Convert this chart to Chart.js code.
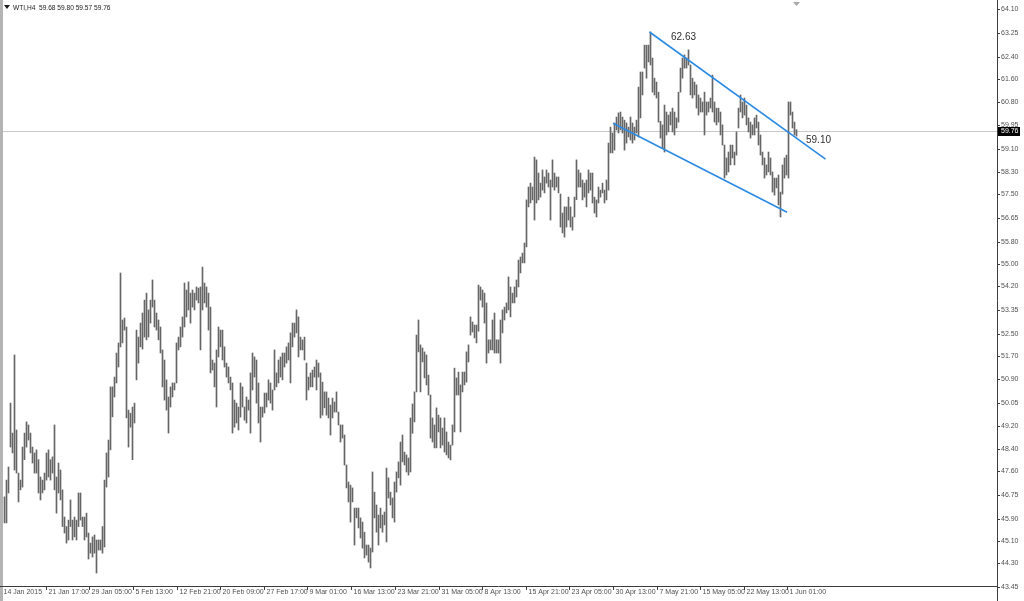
<!DOCTYPE html>
<html>
<head>
<meta charset="utf-8">
<script src="https://cdn.jsdelivr.net/npm/chart.js@4.4.1/dist/chart.umd.min.js"></script>
<style>
  html, body { margin: 0; padding: 0; background: #fff; overflow: hidden; }
  canvas { display: block; }
</style>
</head>
<body>
<canvas id="wtiChart" width="1024" height="601"></canvas>
<script>
// WTI H4 bars (one entry every second pixel column)
const highs = [
  46.68,47.28,47.75,50.03,48.96,51.75,49.07,47.53,47.28,48.46,
  48.96,49.36,49.25,48.96,48.46,48.25,48.36,48.01,47.39,47.28,
  47.53,48.25,48.36,48.01,48.11,49.25,47.39,47.89,47.64,46.93,
  45.96,45.62,45.85,46.57,45.85,45.96,45.85,46.82,46.82,45.96,
  45.96,46.10,45.39,45.03,45.25,45.32,45.14,45.14,45.14,45.62,
  47.28,48.25,48.71,50.61,50.61,50.96,51.82,52.18,54.68,53.00,
  53.07,52.75,49.78,49.67,49.89,50.03,52.64,52.39,52.89,53.25,
  53.71,53.96,53.36,53.71,54.43,53.71,53.25,53.00,52.75,51.93,
  51.57,50.86,50.25,50.61,50.75,50.75,52.18,52.39,52.75,53.11,
  54.32,54.07,54.36,53.96,54.07,53.96,54.18,54.14,54.18,54.89,
  54.32,54.18,53.96,53.46,51.57,51.46,51.93,52.75,52.64,52.64,
  52.04,51.46,51.32,50.96,50.75,50.14,50.03,49.89,50.75,50.61,
  49.89,50.25,50.14,51.11,51.82,51.68,51.57,50.75,49.89,49.89,
  50.39,50.39,50.86,50.75,50.50,51.93,51.11,51.57,51.68,51.82,
  51.82,52.04,52.18,52.54,52.89,52.89,53.36,53.11,52.39,52.29,
  52.39,51.46,50.96,51.11,51.21,51.32,51.57,51.46,51.11,50.78,
  50.43,50.43,50.21,49.96,50.21,50.07,50.43,49.71,49.25,49.25,
  48.89,47.82,47.21,47.10,47.00,46.28,46.28,46.28,45.93,45.78,
  45.42,44.96,44.96,44.85,47.57,46.85,46.39,46.03,46.28,46.03,
  46.14,47.71,47.36,46.85,46.64,47.21,47.57,47.93,48.64,48.89,
  48.28,48.18,48.07,49.50,50.00,50.43,52.46,53.00,52.11,52.00,
  51.86,51.75,51.03,50.32,49.50,49.25,49.86,49.60,49.50,49.14,
  49.50,49.00,48.64,48.53,49.25,51.28,50.93,51.14,50.68,51.14,
  51.14,51.86,52.11,53.11,52.93,52.82,52.82,54.25,54.18,54.07,
  53.96,53.61,52.29,52.29,53.00,53.25,52.29,52.29,53.00,53.36,
  53.46,53.61,54.54,54.18,53.96,54.18,54.43,55.14,55.25,55.39,
  55.75,57.29,57.75,57.89,57.75,58.82,58.72,58.25,57.89,58.36,
  58.11,58.36,58.25,58.00,58.72,58.25,58.11,58.11,57.50,56.82,
  57.04,57.04,57.39,57.04,56.68,57.39,58.72,58.36,58.25,58.00,
  57.89,58.00,58.36,58.25,58.25,57.39,57.29,57.75,57.64,57.89,
  57.64,58.00,59.32,59.89,59.68,60.04,60.25,60.40,60.43,60.25,
  60.14,60.04,59.89,60.25,60.04,59.89,60.14,61.32,61.86,61.86,
  62.82,62.82,62.82,63.29,62.36,61.64,61.50,61.14,60.10,59.97,
  60.68,60.43,60.32,60.43,60.57,60.43,60.22,61.14,62.00,62.36,
  62.47,62.36,62.65,62.11,61.64,61.50,61.40,61.04,60.93,60.79,
  61.14,60.79,60.79,60.93,61.75,60.79,60.57,60.57,60.43,59.97,
  59.25,58.79,59.00,59.25,59.25,59.00,59.72,60.57,61.04,60.79,
  60.93,60.68,60.22,60.07,59.97,60.22,60.32,60.07,59.61,59.00,
  58.79,58.54,59.00,58.79,58.29,58.07,58.07,58.18,57.57,58.54,
  58.79,58.89,60.79,60.79,60.43,60.07,59.80
];
const lows = [
  45.75,45.75,46.82,48.46,48.25,47.64,47.53,46.50,46.93,47.03,
  48.01,48.46,48.71,48.25,47.89,47.53,47.53,46.82,46.57,46.82,
  46.93,47.28,47.39,47.28,47.53,46.93,46.10,46.82,46.57,45.62,
  45.39,45.03,45.14,45.62,45.14,45.25,45.14,45.62,45.85,45.62,
  45.14,45.25,44.46,44.67,44.53,44.67,43.96,44.78,44.78,44.67,
  44.89,47.03,47.39,48.36,49.54,50.25,50.75,51.32,52.04,52.18,
  52.64,49.50,48.46,49.17,48.01,49.32,50.86,51.46,52.04,51.96,
  52.39,52.29,52.39,52.89,53.46,52.75,52.64,52.29,51.82,50.61,
  50.14,49.78,48.96,49.89,50.25,50.50,50.75,51.93,52.04,52.39,
  52.75,53.11,53.36,52.89,53.46,53.36,53.71,53.61,51.93,53.36,
  53.61,53.46,52.64,51.11,51.21,50.61,49.89,51.68,52.04,51.57,
  51.32,50.96,50.75,50.50,48.96,49.17,49.32,49.07,49.53,49.89,
  49.42,49.32,49.78,48.96,50.50,50.96,50.03,49.32,48.64,49.53,
  49.68,49.89,50.14,50.03,49.78,50.50,50.61,50.75,50.96,50.86,
  51.32,51.46,51.57,50.75,52.04,52.39,52.54,51.68,51.93,51.93,
  51.57,50.14,50.50,50.61,50.61,50.96,50.50,50.96,49.50,49.60,
  49.86,49.60,49.50,48.89,49.50,49.71,49.71,49.25,48.64,48.78,
  47.82,47.00,46.50,45.78,46.50,44.96,45.93,45.57,45.21,44.85,
  44.50,44.60,44.35,44.14,44.71,45.93,45.42,44.96,45.57,45.42,
  45.68,45.07,46.64,46.39,45.93,45.78,46.85,47.36,47.10,47.93,
  47.82,47.57,47.46,47.57,48.95,49.36,50.43,51.86,50.43,51.50,
  50.93,50.68,50.32,48.78,48.64,48.43,48.43,49.00,48.43,48.53,
  48.28,48.18,48.07,48.00,48.53,49.00,50.32,50.32,49.00,50.43,
  50.68,50.78,51.50,52.46,52.57,52.36,52.18,52.60,53.71,53.46,
  52.89,51.46,51.82,51.93,51.93,51.82,51.82,51.82,51.46,52.54,
  53.00,53.25,53.36,53.11,53.61,53.61,53.82,54.18,54.68,55.04,
  55.04,55.61,57.04,57.18,57.29,56.57,57.18,57.29,57.39,57.64,
  57.54,57.89,57.75,56.57,57.75,57.64,57.75,57.54,56.32,56.11,
  55.96,56.32,56.57,56.32,56.21,56.68,57.30,57.75,57.75,57.29,
  57.39,57.04,57.54,57.64,57.18,56.82,56.68,57.18,57.39,57.54,
  57.18,57.29,57.64,58.97,58.97,59.07,59.79,59.68,59.79,59.68,
  59.07,59.32,59.54,59.43,59.32,59.43,59.68,59.54,60.22,61.04,
  62.00,61.64,62.22,62.11,61.14,61.04,60.93,60.07,59.50,59.14,
  59.00,59.61,59.72,59.97,59.72,59.61,59.86,60.07,61.14,61.64,
  62.00,62.00,62.11,61.04,60.93,61.04,60.57,60.32,60.43,60.43,
  59.61,60.32,60.43,60.57,60.43,60.07,59.97,60.07,59.61,59.25,
  58.07,58.18,58.29,58.54,58.79,58.54,58.89,59.86,60.43,60.22,
  60.32,59.97,59.72,59.50,59.61,59.61,59.86,59.25,58.89,58.54,
  58.07,58.18,58.29,58.18,57.57,57.46,57.72,57.11,56.68,57.50,
  58.07,58.18,58.07,60.32,59.86,59.61,59.57
];

// last bar O H L C shown in the header
const lastOHLC = [59.68, 59.80, 59.57, 59.76];
const symbol = 'WTI,H4';

// price axis labels
const yTicks = [64.10,63.25,62.40,61.60,60.80,59.95,59.10,58.30,57.50,56.65,55.80,55.00,54.20,
                53.35,52.50,51.70,50.90,50.05,49.20,48.40,47.60,46.75,45.90,45.10,44.30,43.45];

// time axis labels and the bar slot each one sits at
const xTickLabels = ['14 Jan 2015','21 Jan 17:00','29 Jan 05:00','5 Feb 13:00','12 Feb 21:00',
  '20 Feb 09:00','27 Feb 17:00','9 Mar 01:00','16 Mar 13:00','23 Mar 21:00','31 Mar 05:00',
  '8 Apr 13:00','15 Apr 21:00','23 Apr 05:00','30 Apr 13:00','7 May 21:00','15 May 05:00',
  '22 May 13:00','1 Jun 01:00'];
const xTickSlots = [-2,20.5,42,64,86,107.5,129.5,151,173,195,217,238.5,260.5,282,304,326,347.5,369.5,391];

// channel lines drawn on the chart (slot, price)
const upperLine = [[322.5, 63.29], [410.5, 58.75]];
const lowerLine = [[304.3, 60.03], [391.3, 56.85]];

// text notes on the chart
const notes = [
  { text: '62.63', slot: 339.5, price: 63.11 },
  { text: '59.10', slot: 407, price: 59.43 }
];

const barData = highs.map((h, i) => ({ x: i, y: [lows[i], h] }));

const mt4Frame = {
  id: 'mt4Frame',
  beforeDatasetsDraw(chart) {
    const { ctx, chartArea: a, scales: { y } } = chart;
    // bid line
    const py = Math.round(y.getPixelForValue(lastOHLC[3])) + 0.5;
    ctx.save();
    ctx.strokeStyle = '#c8c8c8';
    ctx.lineWidth = 1;
    ctx.beginPath();
    ctx.moveTo(a.left, py);
    ctx.lineTo(a.right, py);
    ctx.stroke();
    ctx.restore();
  },
  afterDraw(chart) {
    const { ctx, chartArea: a, scales: { x, y } } = chart;
    ctx.save();

    // window edge on the left
    ctx.fillStyle = '#b4b4b4';
    ctx.fillRect(0, 0, 3, chart.height);

    // axis lines
    ctx.strokeStyle = '#3c3c3c';
    ctx.lineWidth = 1;
    ctx.beginPath();
    ctx.moveTo(a.right + 0.5, 0);
    ctx.lineTo(a.right + 0.5, chart.height);
    ctx.moveTo(0, a.bottom + 0.5);
    ctx.lineTo(a.right, a.bottom + 0.5);
    ctx.stroke();

    // price labels
    ctx.font = '7px "Liberation Sans", Arial, sans-serif';
    ctx.textBaseline = 'middle';
    ctx.textAlign = 'left';
    ctx.fillStyle = '#505050';
    yTicks.forEach(v => {
      const py = Math.round(y.getPixelForValue(v)) + 0.5;
      ctx.beginPath();
      ctx.moveTo(a.right, py);
      ctx.lineTo(a.right + 3, py);
      ctx.stroke();
      ctx.fillText(v.toFixed(2), a.right + 4, py);
    });

    // bid box
    const by = Math.round(y.getPixelForValue(lastOHLC[3]));
    ctx.fillStyle = '#000';
    ctx.fillRect(a.right + 1, by - 4, 22, 9);
    ctx.fillStyle = '#fff';
    ctx.fillText(lastOHLC[3].toFixed(2), a.right + 4, by + 0.5);

    // time labels
    ctx.fillStyle = '#505050';
    xTickLabels.forEach((t, k) => {
      const px = Math.round(x.getPixelForValue(xTickSlots[k])) + 0.5;
      if (k > 0) {
        ctx.beginPath();
        ctx.moveTo(px, a.bottom);
        ctx.lineTo(px, a.bottom + 4);
        ctx.stroke();
      }
      ctx.fillText(t, Math.max(px + 2, 3), a.bottom + 6);
    });

    // header: triangle + symbol + OHLC
    ctx.fillStyle = '#1a1a1a';
    ctx.beginPath();
    ctx.moveTo(4, 5); ctx.lineTo(10, 5); ctx.lineTo(7, 9); ctx.closePath();
    ctx.fill();
    ctx.font = '6.6px "Liberation Sans", Arial, sans-serif';
    ctx.fillText(symbol + '  ' + lastOHLC.map(v => v.toFixed(2)).join(' '), 13, 8);

    // chart shift marker
    ctx.fillStyle = '#a8a8a8';
    ctx.beginPath();
    ctx.moveTo(793, 2); ctx.lineTo(800, 2); ctx.lineTo(796.5, 6); ctx.closePath();
    ctx.fill();

    // notes
    ctx.font = '10px "Liberation Sans", Arial, sans-serif';
    ctx.fillStyle = '#303030';
    ctx.textAlign = 'center';
    notes.forEach(n => {
      ctx.fillText(n.text, x.getPixelForValue(n.slot), y.getPixelForValue(n.price));
    });

    ctx.restore();
  }
};

new Chart(document.getElementById('wtiChart'), {
  type: 'bar',
  data: {
    datasets: [
      {
        type: 'line',
        data: upperLine.map(p => ({ x: p[0], y: p[1] })),
        borderColor: '#2a8ae4',
        borderWidth: 1.6,
        pointRadius: 0,
        order: 1
      },
      {
        type: 'line',
        data: lowerLine.map(p => ({ x: p[0], y: p[1] })),
        borderColor: '#2a8ae4',
        borderWidth: 1.6,
        pointRadius: 0,
        order: 1
      },
      {
        type: 'bar',
        data: barData,
        backgroundColor: '#666666',
        barThickness: 1,
        order: 2
      }
    ]
  },
  options: {
    responsive: false,
    animation: false,
    devicePixelRatio: 1,
    layout: { padding: { left: 0, top: 2, right: 27, bottom: 15 } },
    plugins: { legend: { display: false }, tooltip: { enabled: false } },
    scales: {
      x: { type: 'linear', min: -2.25, max: 496.25, offset: false, display: false },
      y: { min: 43.496, max: 64.361, display: false }
    }
  },
  plugins: [mt4Frame]
});
</script>
</body>
</html>
